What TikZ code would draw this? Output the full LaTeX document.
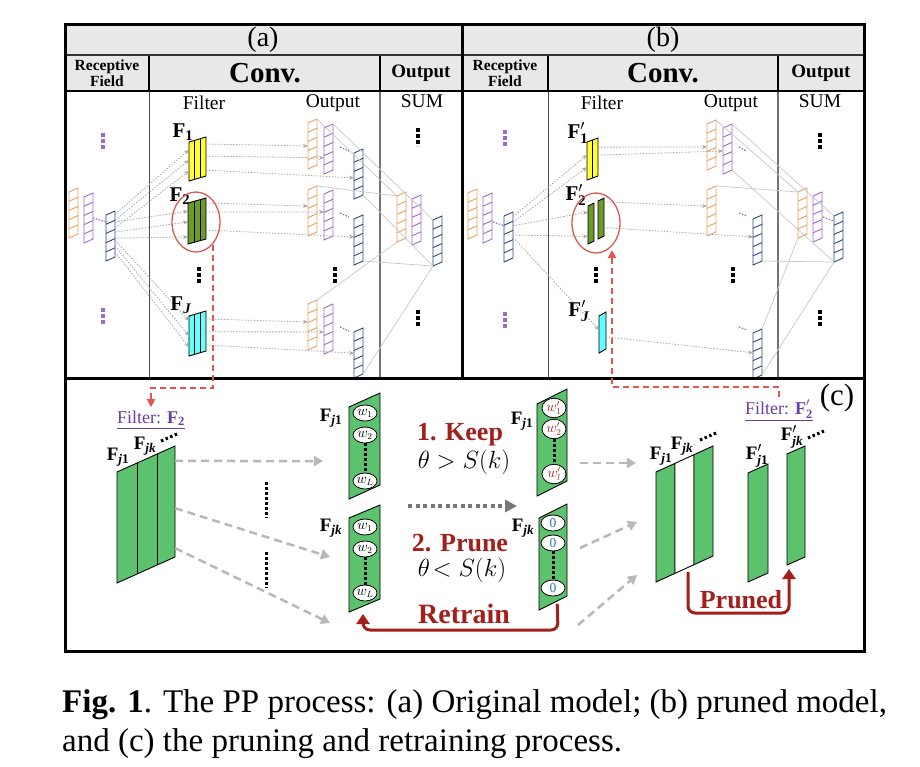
\documentclass[tikz,border=0pt]{standalone}
\usepackage{amsmath}
\usepackage{graphicx}
\usepackage{fontspec}
\setmainfont{Liberation Serif}
\usetikzlibrary{arrows.meta,calc,shapes.geometric}
\definecolor{cor}{HTML}{E6A263}
\definecolor{cpu}{HTML}{9A6BC6}
\definecolor{cbl}{HTML}{2E4A7D}
\definecolor{cye}{HTML}{FFFF33}
\definecolor{cdg}{HTML}{6B9A2B}
\definecolor{ccy}{HTML}{66FFFF}
\definecolor{cgr}{HTML}{5DC26E}
\definecolor{cred}{HTML}{D45A55}
\definecolor{cdash}{HTML}{E5554F}
\definecolor{cdr}{HTML}{A31F1C}
\definecolor{ctxt}{HTML}{6A3FA0}
\definecolor{chead}{HTML}{E8E8E8}
\definecolor{carr}{HTML}{A8A8A8}
\definecolor{carrc}{HTML}{B8B8B8}
\definecolor{cln}{HTML}{C8C8C8}
\definecolor{czero}{HTML}{2E75B6}
\definecolor{cdot}{HTML}{777777}
\newcommand\FF[1]{$\text{\textbf{F}}_{\text{\textbf{#1}}}$}
\newcommand\FP[1]{$\text{\textbf{F}}'_{\text{\textbf{#1}}}$}
\newcommand\stk[4]{%
\begin{scope}[shift={(#1,#2)}]
\draw[draw=#3,line width=0.9pt,fill=white] (0,0) coordinate (#4-tl) -- (9,-4) coordinate (#4-tr) -- (9,42) coordinate (#4-br) -- (0,46) coordinate (#4-bl) -- cycle;
\foreach \k in {1,2,3,4}{\draw[draw=#3,line width=0.9pt] (0,\k*9.2) -- (9,\k*9.2-4);}
\end{scope}}
\newcommand\filt[7]{%
\begin{scope}[shift={(#1,#2)}]
\draw[fill=#6,line width=0.9pt] (0,0) coordinate (#7-tl) -- (#3,-#4) coordinate (#7-tr) -- (#3,#5-#4) coordinate (#7-br) -- (0,#5) coordinate (#7-bl) -- cycle;
\end{scope}}
\newcommand\stripes[2]{\foreach \f in {#2}{\draw[line width=0.9pt] ($(#1-tl)!\f!(#1-tr)$) -- ($(#1-bl)!\f!(#1-br)$);}}
\newcommand\conn[4]{\draw[gdot] ($(#1-tr)!#2!(#1-br)$) -- ($(#3-tl)!#4!(#3-bl)$);}
\tikzset{
 gdot/.style={dash pattern=on 1.5pt off 1.5pt, line width=0.8pt, carr, -{Stealth[length=5pt,width=4pt]}},
 sumln/.style={line width=0.7pt, cln},
 pdash/.style={dash pattern=on 1.5pt off 1.5pt, line width=1.2pt, cpu},
 vdk/.style={line width=3.5pt, dash pattern=on 3.5pt off 2.5pt},
 vdp/.style={line width=3.5pt, dash pattern=on 3.5pt off 2.5pt, cpu},
 gdash/.style={line width=2.5pt, carrc, dash pattern=on 8pt off 5pt, -{Triangle[length=9pt,width=10pt]}},
 rdash/.style={line width=2pt, cdash, dash pattern=on 6pt off 4pt, -{Triangle[length=8pt,width=8pt]}},
 rarr/.style={line width=3pt, cdr, rounded corners=7pt, -{Triangle[length=10pt,width=13pt]}},
 lbl/.style={font=\fontsize{21}{21}\selectfont},
 clbl/.style={font=\fontsize{19}{19}\selectfont},
 flbl/.style={font=\fontsize{18}{18}\selectfont, text=ctxt},
 hd/.style={font=\fontsize{19.5}{19.5}\selectfont},
 wc/.style={ellipse, draw, line width=0.8pt, fill=white, minimum width=24pt, minimum height=16pt, inner sep=0pt, font=\fontsize{13.5}{13.5}\selectfont},
 big/.style={font=\fontsize{26}{26}\selectfont\bfseries, text=cdr},
 th/.style={font=\fontsize{24}{24}\selectfont},
}
\begin{document}
\begin{tikzpicture}[x=1pt,y=-1pt]
\useasboundingbox (0,0) rectangle (920,766);
\fill[white] (0,0) rectangle (920,766);
\fill[chead] (65,24) rectangle (864,91);
% column separators
\foreach \xx in {149,380,548,778}{\draw[line width=1.5pt] (\xx,55) -- (\xx,91);}
\foreach \xx in {149,548}{\draw[line width=0.9pt, black!70] (\xx,91) -- (\xx,378);}
\foreach \xx in {380,778}{\draw[line width=1.8pt, black!55] (\xx,91) -- (\xx,378);}
\draw[line width=1.5pt, black!80] (65,55) -- (864,55);
\draw[line width=2pt] (65,91) -- (864,91);
% header text
\node[font=\fontsize{28}{28}\selectfont] (ha) at (263,40) {(a)};
\node[font=\fontsize{28}{28}\selectfont] (hb) at (663,40) {(b)};
\node[align=center, font=\fontsize{15.5}{16.5}\selectfont\bfseries] (rfa) at (107,73) {Receptive\\Field};
\node[font=\fontsize{29}{29}\selectfont\bfseries] (cva) at (265,73) {Conv.};
\node[font=\fontsize{19}{19}\selectfont\bfseries] (opa) at (421,73) {Output};
\node[align=center, font=\fontsize{15.5}{16.5}\selectfont\bfseries] (rfb) at (505,73) {Receptive\\Field};
\node[font=\fontsize{29}{29}\selectfont\bfseries] (cvb) at (663,73) {Conv.};
\node[font=\fontsize{19}{19}\selectfont\bfseries] (opb) at (821,73) {Output};
\node[hd] (fa) at (204,103) {Filter};
\node[hd] (oa) at (333,103) {Output};
\node[hd] (sa) at (422,101) {SUM};
\node[hd] (fb) at (602,103) {Filter};
\node[hd] (ob) at (731,103) {Output};
\node[hd] (sb) at (820,101) {SUM};
% stacks (a)
\stk{69}{192}{cor}{ra1} \stk{84}{197}{cpu}{ra2} \stk{106}{215}{cbl}{ra3}
\stk{308}{123}{cor}{ga1o} \stk{324}{128}{cpu}{ga1p} \stk{354}{153}{cbl}{ga1b}
\stk{308}{190}{cor}{ga2o} \stk{324}{194}{cpu}{ga2p} \stk{354}{219}{cbl}{ga2b}
\stk{308}{304}{cor}{gaJo} \stk{324}{308}{cpu}{gaJp} \stk{354}{332}{cbl}{gaJb}
\stk{397}{196}{cor}{sao} \stk{412}{199}{cpu}{sap} \stk{433}{220}{cbl}{sab}
% stacks (b)
\stk{468}{193}{cor}{rb1} \stk{483}{197}{cpu}{rb2} \stk{504}{216}{cbl}{rb3}
\stk{707}{124}{cor}{gb1o} \stk{723}{128}{cpu}{gb1p}
\stk{707}{190}{cor}{gb2o} \stk{753}{219}{cbl}{gb2b}
\stk{753}{333}{cbl}{gbJb}
\stk{798}{192}{cor}{sbo} \stk{813}{196}{cpu}{sbp} \stk{834}{216}{cbl}{sbb}
% sum lines
\draw[sumln] (ga1o-tr) -- (sao-tl);
\draw[sumln] (ga1p-tr) -- (sab-tl);
\draw[sumln] (ga1b-br) -- (sab-bl);
\draw[sumln] (ga2o-tr) -- (sao-tl);
\draw[sumln] (ga2b-br) -- (sab-bl);
\draw[sumln] (gaJo-tr) -- (sao-bl);
\draw[sumln] (gaJb-br) -- (sab-bl);
\draw[sumln] (gb1o-tr) -- (sbo-tl);
\draw[sumln] (gb1p-tr) -- (sbb-tl);
\draw[sumln] (gb1p-br) -- (sbb-bl);
\draw[sumln] (gb2o-tr) -- (sbo-tl);
\draw[sumln] (gb2b-br) -- (sbb-bl);
\draw[sumln] (gbJb-tr) -- (sbo-bl);
\draw[sumln] (gbJb-br) -- (sbb-bl);
% purple dashes
\draw[pdash] (93,218) -- (106,222);
\draw[pdash] (340,147) -- (349,151);
\draw[pdash] (340,213) -- (349,217);
\draw[pdash] (340,327) -- (349,331);
\draw[pdash] (493,222) -- (505,226);
\draw[pdash] (739,147) -- (746,151);
\draw[pdash] (739,213) -- (747,216);
\draw[pdash] (739,327) -- (747,330);
\draw[pdash] (823,217) -- (834,221);
% filters (a)
\filt{189}{142}{17}{5}{39}{cye}{fa1} \stripes{fa1}{.333,.667}
\filt{188}{203}{18}{5}{41}{cdg}{fa2} \stripes{fa2}{.333,.667}
\filt{189}{316}{17}{5}{40}{ccy}{faJ} \stripes{faJ}{.333,.667}
% filters (b)
\filt{587}{142}{11}{4}{38}{cye}{fb1} \stripes{fb1}{.5}
\filt{588}{206}{6}{3}{38}{cdg}{fb2a}
\filt{598}{201}{6}{3}{38}{cdg}{fb2b}
\filt{599}{316}{7}{4}{37}{ccy}{fbJ}
% arrows (a)
\conn{ra3}{.07}{fa1}{.2} \conn{ra3}{.2}{fa1}{.46} \conn{ra3}{.37}{fa1}{.74}
\conn{ra3}{.24}{fa2}{.2} \conn{ra3}{.46}{fa2}{.46} \conn{ra3}{.59}{fa2}{.83}
\conn{ra3}{.63}{faJ}{.12} \conn{ra3}{.76}{faJ}{.5} \conn{ra3}{.89}{faJ}{.78}
\conn{fa1}{.18}{ga1o}{.5} \conn{fa1}{.49}{ga1p}{.65} \conn{fa1}{.85}{ga1b}{.54}
\conn{fa2}{.12}{ga2o}{.35} \conn{fa2}{.34}{ga2p}{.39} \conn{fa2}{.78}{ga2b}{.39}
\conn{faJ}{.2}{gaJo}{.39} \conn{faJ}{.52}{gaJp}{.52} \conn{faJ}{.85}{gaJb}{.46}
% arrows (b)
\conn{rb3}{.1}{fb1}{.34} \conn{rb3}{.22}{fb1}{.66}
\conn{rb3}{.3}{fb2a}{.16} \conn{rb3}{.5}{fb2a}{.8}
\conn{rb3}{.55}{fbJ}{.38}
\conn{fb1}{.24}{gb1o}{.5} \conn{fb1}{.45}{gb1p}{.5}
\conn{fb2b}{.1}{gb2o}{.35} \conn{fb2b}{.78}{gb2b}{.39}
\conn{fbJ}{.67}{gbJb}{.43}
% labels
\node[lbl] (lf1) at (183,132) {\FF{1}};
\node[lbl] (lf2) at (180,196) {\FF{2}};
\node[lbl] (lfJ) at (181,305) {\FF{\textit{J}}};
\node[lbl] (lg1) at (578,133) {\FP{1}};
\node[lbl] (lg2) at (576,195) {\FP{2}};
\node[lbl] (lgJ) at (579,311) {\FP{\textit{J}}};
% dots
\draw[vdp] (103,133) -- (103,151);
\draw[vdp] (103,308) -- (103,326);
\draw[vdp] (505,130) -- (505,148);
\draw[vdp] (505,312) -- (505,330);
\draw[vdk] (199,267) -- (199,285);
\draw[vdk] (596,267) -- (596,285);
\draw[vdk] (335,267) -- (335,285);
\draw[vdk] (733,267) -- (733,285);
\draw[vdk] (418,128) -- (418,146);
\draw[vdk] (418,310) -- (418,328);
\draw[vdk] (820,133) -- (820,151);
\draw[vdk] (820,310) -- (820,328);
% ellipses
\draw[cred, line width=1.3pt] (196,222) ellipse [x radius=24, y radius=30];
\draw[cred, line width=1.3pt] (596,223) ellipse [x radius=24, y radius=30];
\coordinate (ea) at (213,245);
\coordinate (eb) at (612,250);
% outer frame
\draw[line width=3pt] (462,24) -- (462,378);
\draw[line width=3pt] (65,378) -- (864,378);
\draw[line width=3pt] (65,24) rectangle (864,651);
% panel c
\node[flbl] (flt2) at (151,420) {\underline{Filter: \FF{2}}};
\node[flbl] (fltb) at (779,411) {\underline{Filter: \FP{2}}};
\node[font=\fontsize{31}{31}\selectfont] (lc) at (837,398) {(c)};
\draw[rdash] (ea) -- (213,388) -| (flt2.north);
\draw[rdash] (fltb.north) |- (612,387) -- (eb);
% left filter
\filt{117}{472}{58}{26}{111}{cgr}{cf} \stripes{cf}{.345,.69}
\node[clbl] (cfl1) at (118,457) {\FF{\textit{j}1}};
\node[clbl] (cfl2) at (145,446) {\FF{\textit{jk}}};
\draw[line width=3pt, dash pattern=on 2.5pt off 2.5pt] (161,441) -- (177,434);
% gray dashed arrows
\coordinate (e1) at (323,461);
\coordinate (e2) at (330,557);
\coordinate (e3) at (330,623);
\draw[gdash] ($(cf-tr)!.135!(cf-br)$) -- (e1);
\draw[gdash] ($(cf-tr)!.56!(cf-br)$) -- (e2);
\draw[gdash] ($(cf-tr)!.92!(cf-br)$) -- (e3);
\draw[line width=3pt, dash pattern=on 3pt off 2pt] (266,482) -- (266,518);
\draw[line width=3pt, dash pattern=on 3pt off 2pt] (266,552) -- (266,588);
% middle columns
\filt{349}{407}{31}{14}{92}{cgr}{cA}
\filt{349}{518}{31}{13}{94}{cgr}{cB}
\filt{537}{404}{30}{15}{92}{cgr}{cC}
\filt{539}{518}{28}{14}{92}{cgr}{cD}
\node[wc] (a1) at (365,413) {$w_1$};
\node[wc] (a2) at (365,435) {$w_2$};
\node[wc] (aL) at (365,481) {$w_L$};
\draw[line width=3pt, dash pattern=on 3pt off 2pt] (a2.south) -- (aL.north);
\node[wc] (b1) at (365,527) {$w_1$};
\node[wc] (b2) at (365,549) {$w_2$};
\node[wc] (bL) at (365,593) {$w_L$};
\draw[line width=3pt, dash pattern=on 3pt off 2pt] (b2.south) -- (bL.north);
\node[wc, text=cdr] (c1) at (554,408) {$w'_1$};
\node[wc, text=cdr] (c2) at (554,429) {$w'_2$};
\node[wc, text=cdr] (cL) at (554,474) {$w'_l$};
\draw[line width=3pt, dash pattern=on 3pt off 2pt] (c2.south) -- (cL.north);
\node[wc, text=czero] (d1) at (553,523) {0};
\node[wc, text=czero] (d2) at (553,543) {0};
\node[wc, text=czero] (dL) at (553,588) {0};
\draw[line width=3pt, dash pattern=on 3pt off 2pt] (d2.south) -- (dL.north);
\node[clbl] (lA) at (331,418) {\FF{\textit{j}1}};
\node[clbl] (lB) at (331,528) {\FF{\textit{jk}}};
\node[clbl] (lC) at (522,421) {\FF{\textit{j}1}};
\node[clbl] (lD) at (523,528) {\FF{\textit{jk}}};
\node[big] (keep) at (460,435) {1. Keep};
\node[th] (t1) at (464,462) {$\theta > S(k)$};
\node[big] (prune) at (460,543) {2. Prune};
\node[th] (t2) at (462,570) {$\theta\!< S(k)$};
\node[big, font=\fontsize{28}{28}\selectfont\bfseries] (retr) at (464,614) {Retrain};
\coordinate (m1) at (408,506);
\coordinate (m2) at (517,506);
\draw[line width=3.5pt, cdot, dash pattern=on 4pt off 3.5pt, -{Triangle[length=12pt,width=12pt]}] (m1) -- (m2);
\draw[rarr] ($(cD-bl)!.65!(cD-br)$) ++(0,3) -- (558,630) -- (363,630) -- (363,614);
% right side
\coordinate (s1) at (580,463);
\coordinate (s2) at (580,548);
\coordinate (s3) at (578,625);
\draw[gdash] (s1) -- (636,463);
\draw[gdash] (s2) -- (637,522);
\draw[gdash] (s3) -- (637,575);
\filt{656}{472}{19}{8.67}{110}{cgr}{cm1}
\filt{675}{463.33}{19}{8.67}{110}{white}{cm2}
\filt{694}{454.67}{19}{8.67}{110}{cgr}{cm3}
\filt{748}{473}{20}{9}{109}{cgr}{cp1}
\filt{787}{454}{18}{8}{111}{cgr}{cp2}
\node[clbl] (rl1) at (661,456) {\FF{\textit{j}1}};
\node[clbl] (rl2) at (682,446) {\FF{\textit{jk}}};
\draw[line width=3pt, dash pattern=on 2.5pt off 2.5pt] (700,440) -- (716,433);
\node[clbl] (rl3) at (757,456) {\FP{\textit{j}1}};
\node[clbl] (rl4) at (792,437) {\FP{\textit{jk}}};
\draw[line width=3pt, dash pattern=on 2.5pt off 2.5pt] (808,438) -- (824,431);
\draw[rarr] (688,572) -- (688,613) -- (789,613) -- (789,569);
\node[big] (prn) at (741,600) {Pruned};
% caption
\node[anchor=base west, inner sep=0pt, font=\fontsize{33}{33}\selectfont] (cap1) at (62,712) {\textbf{Fig. 1}. The PP process: (a) Original model; (b) pruned model,};
\node[anchor=base west, inner sep=0pt, font=\fontsize{33}{33}\selectfont] (cap2) at (62,751) {and (c) the pruning and retraining process.};
\end{tikzpicture}
\end{document}
